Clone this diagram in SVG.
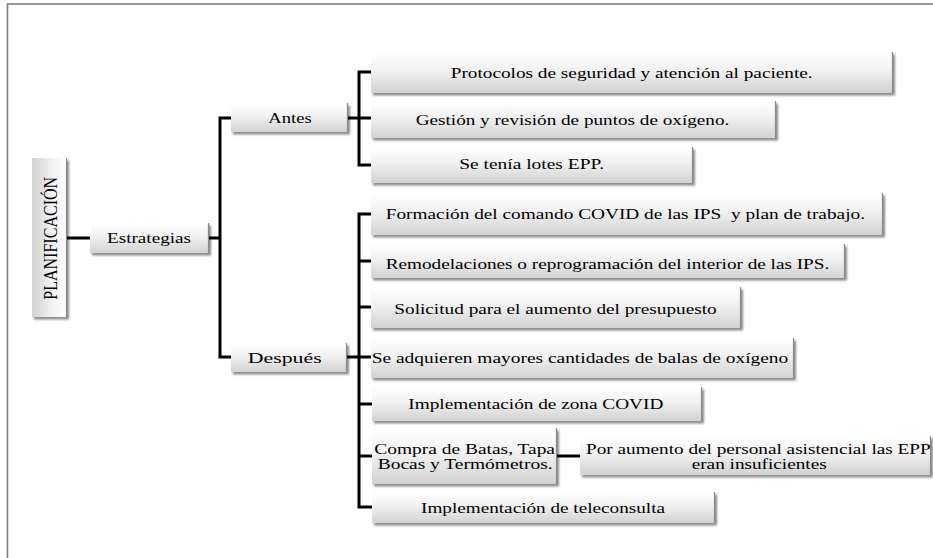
<svg xmlns="http://www.w3.org/2000/svg" width="933" height="558" viewBox="0 0 933 558">
<defs>
<linearGradient id="g" x1="0" y1="0" x2="0" y2="1">
<stop offset="0" stop-color="#ffffff"/>
<stop offset="0.45" stop-color="#f1f1f1"/>
<stop offset="1" stop-color="#d2d2d2"/>
</linearGradient>
<linearGradient id="gv" x1="1" y1="0" x2="0" y2="0">
<stop offset="0" stop-color="#ffffff"/>
<stop offset="0.45" stop-color="#f1f1f1"/>
<stop offset="1" stop-color="#d2d2d2"/>
</linearGradient>
<filter id="sh" x="-10%" y="-20%" width="125%" height="160%">
<feDropShadow dx="2" dy="2.5" stdDeviation="1.2" flood-color="#000" flood-opacity="0.45"/>
</filter>
</defs>
<style>
.box{fill:url(#g);filter:url(#sh);}
.vbox{fill:url(#gv);filter:url(#sh);}
.edge{stroke:#8a8a8a;stroke-width:1.2;fill:none;}
.t{font-family:'Liberation Serif','DejaVu Serif','Times New Roman',serif;font-size:15.5px;fill:#000;}
.t2{font-size:15px;}
.c{stroke:#000;stroke-width:3;fill:none;stroke-linecap:square;}
</style>
<rect x="7.5" y="4" width="1000" height="1000" fill="none" stroke="#7f7f7f" stroke-width="1.6"/>
<g id="connectors">
<path class="c" d="M67 238H90"/>
<path class="c" d="M209 238H220M220 118V357M220 118H231M220 357H231"/>
<path class="c" d="M348 118H359M359 72V165M359 72H371M359 118H371M359 165H371"/>
<path class="c" d="M347 357H359M359 214V507M359 214H372M359 261H372M359 307H372M359 357H372M359 404H372M359 456H372M359 507H372"/>
<path class="c" d="M557 456H580"/>
</g>
<g id="planificacion">
<rect class="vbox" x="32" y="158" width="35" height="159"/>
<path class="edge" d="M66.5 158V317"/>
<text class="t" font-family="Liberation Serif, serif" transform="translate(56.7,238.3) rotate(-90) scale(1,1.25)" text-anchor="middle" textLength="123" lengthAdjust="spacingAndGlyphs">PLANIFICACIÓN</text>
</g>
<g id="estrategias">
<rect class="box" x="90" y="223" width="119" height="30"/>
<path class="edge" d="M208.5 223V253"/>
<text class="t" font-family="Liberation Serif, serif" x="107" y="243.3" textLength="84" lengthAdjust="spacingAndGlyphs">Estrategias</text>
</g>
<g id="antes">
<rect class="box" x="231" y="103" width="117" height="29"/>
<path class="edge" d="M347.5 103V132"/>
<text class="t" font-family="Liberation Serif, serif" x="268.3" y="123.3" textLength="43.4" lengthAdjust="spacingAndGlyphs">Antes</text>
</g>
<g id="despues">
<rect class="box" x="231" y="343" width="116" height="29"/>
<path class="edge" d="M346.5 343V372"/>
<text class="t" font-family="Liberation Serif, serif" x="247.7" y="363.3" textLength="74" lengthAdjust="spacingAndGlyphs">Después</text>
</g>
<g id="protocolos">
<rect class="box" x="371" y="52" width="522" height="41"/>
<path class="edge" d="M892.5 52V93"/>
<text class="t" font-family="Liberation Serif, serif" x="450.7" y="78" textLength="362" lengthAdjust="spacingAndGlyphs">Protocolos de seguridad y atención al paciente.</text>
</g>
<g id="gestion">
<rect class="box" x="371" y="101" width="405" height="37"/>
<path class="edge" d="M775.5 101V138"/>
<text class="t" font-family="Liberation Serif, serif" x="415.7" y="124.5" textLength="313.6" lengthAdjust="spacingAndGlyphs">Gestión y revisión de puntos de oxígeno.</text>
</g>
<g id="lotes">
<rect class="box" x="371" y="147" width="322" height="36"/>
<path class="edge" d="M692.5 147V183"/>
<text class="t" font-family="Liberation Serif, serif" x="459.3" y="169.3" textLength="144.7" lengthAdjust="spacingAndGlyphs">Se tenía lotes EPP.</text>
</g>
<g id="formacion">
<rect class="box" x="371" y="193" width="512" height="42"/>
<path class="edge" d="M882.5 193V235"/>
<text class="t" font-family="Liberation Serif, serif" x="385.7" y="219.3" textLength="479.3" lengthAdjust="spacingAndGlyphs" style="white-space:pre">Formación del comando COVID de las IPS  y plan de trabajo.</text>
</g>
<g id="remodelaciones">
<rect class="box" x="371" y="244" width="474" height="34"/>
<path class="edge" d="M844.5 244V278"/>
<text class="t" font-family="Liberation Serif, serif" x="385.7" y="269.3" textLength="443.6" lengthAdjust="spacingAndGlyphs">Remodelaciones o reprogramación del interior de las IPS.</text>
</g>
<g id="solicitud">
<rect class="box" x="371" y="287" width="370" height="41"/>
<path class="edge" d="M740.5 287V328"/>
<text class="t" font-family="Liberation Serif, serif" x="394.3" y="314" textLength="322.4" lengthAdjust="spacingAndGlyphs">Solicitud para el aumento del presupuesto</text>
</g>
<g id="balas">
<rect class="box" x="371" y="338" width="423" height="40"/>
<path class="edge" d="M793.5 338V378"/>
<text class="t" font-family="Liberation Serif, serif" x="371.7" y="363.3" textLength="416.6" lengthAdjust="spacingAndGlyphs">Se adquieren mayores cantidades de balas de oxígeno</text>
</g>
<g id="zona">
<rect class="box" x="372" y="387" width="330" height="34"/>
<path class="edge" d="M701.5 387V421"/>
<text class="t" font-family="Liberation Serif, serif" x="408.3" y="409.3" textLength="255" lengthAdjust="spacingAndGlyphs">Implementación de zona COVID</text>
</g>
<g id="compra">
<rect class="box" x="372" y="428" width="185" height="56"/>
<path class="edge" d="M556.5 428V484"/>
<text class="t t2" font-family="Liberation Serif, serif" x="374.3" y="454" textLength="180.7" lengthAdjust="spacingAndGlyphs">Compra de Batas, Tapa</text>
<text class="t t2" font-family="Liberation Serif, serif" x="377.7" y="469.3" textLength="175" lengthAdjust="spacingAndGlyphs">Bocas y Termómetros.</text>
</g>
<g id="insuficientes">
<rect class="box" x="580" y="436" width="351" height="39"/>
<path class="edge" d="M930.5 436V475"/>
<text class="t t2" font-family="Liberation Serif, serif" x="586" y="454.3" textLength="344.7" lengthAdjust="spacingAndGlyphs">Por aumento del personal asistencial las EPP</text>
<text class="t t2" font-family="Liberation Serif, serif" x="691.7" y="469.3" textLength="135" lengthAdjust="spacingAndGlyphs">eran insuficientes</text>
</g>
<g id="teleconsulta">
<rect class="box" x="372" y="492" width="343" height="31"/>
<path class="edge" d="M714.5 492V523"/>
<text class="t" font-family="Liberation Serif, serif" x="421" y="512.7" textLength="244" lengthAdjust="spacingAndGlyphs">Implementación de teleconsulta</text>
</g>
</svg>
